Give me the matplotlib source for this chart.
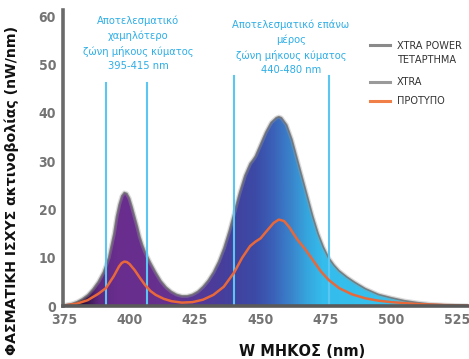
import numpy as np
import matplotlib
matplotlib.use("Agg")
import matplotlib.pyplot as plt
from matplotlib.colors import LinearSegmentedColormap
from matplotlib.patches import Polygon
from matplotlib.lines import Line2D

# ---------------- data ----------------
power_nm = [375, 378, 380, 382, 384, 386, 388, 390, 392, 394, 395, 396, 397, 398, 399, 400,
            401, 402, 403, 404, 405, 406, 408, 410, 412, 414, 416, 418, 420, 422, 424, 426,
            428, 430, 432, 434, 436, 438, 440, 442, 444, 446, 447, 448, 450, 452, 454, 456,
            457, 458, 460, 462, 464, 466, 468, 470, 472, 474, 476, 478, 480, 483, 486, 490,
            495, 500, 505, 510, 515, 520, 525, 529]
power_val = [0.2, 0.5, 0.9, 1.5, 2.3, 3.5, 5.0, 7.0, 10.0, 15.0, 18.5, 21.0, 22.8, 23.5, 23.3, 22.3,
             20.5, 18.5, 16.5, 14.3, 12.6, 11.2, 9.0, 7.0, 5.2, 3.9, 3.0, 2.4, 2.1, 2.1, 2.4, 3.0,
             4.0, 5.3, 7.0, 9.2, 12.0, 15.5, 19.5, 23.5, 27.0, 29.5, 30.2, 31.0, 33.5, 36.0, 38.0, 39.0,
             39.2, 39.0, 37.5, 34.5, 30.5, 26.5, 22.5, 18.5, 15.0, 12.2, 10.0, 8.5, 7.3, 6.0, 4.9, 3.6,
             2.4, 1.7, 1.1, 0.7, 0.4, 0.25, 0.15, 0.1]

std_nm = [375, 380, 384, 388, 391, 394, 396, 397, 398, 399, 400, 402, 404, 406, 408, 410, 413,
          416, 420, 424, 428, 432, 436, 440, 443, 446, 448, 450, 452, 455, 457, 459,
          461, 464, 467, 470, 473, 476, 480, 485, 490, 495, 500, 510, 520, 529]
std_val = [0.1, 0.5, 1.2, 2.5, 3.7, 6.2, 8.2, 8.9, 9.2, 9.1, 8.7, 7.4, 5.8, 4.3, 3.1, 2.3, 1.5,
           1.0, 0.7, 0.8, 1.3, 2.3, 4.0, 7.0, 10.0, 12.4, 13.3, 14.0, 15.3, 17.2, 17.9, 17.6,
           16.3, 13.8, 11.8, 9.5, 7.2, 5.4, 3.7, 2.4, 1.6, 1.1, 0.8, 0.4, 0.2, 0.1]

band_lines = [391, 406.5, 440, 476]
band_tops = [46.2, 46.2, 47.6, 47.6]

x_ticks = [375, 400, 425, 450, 475, 500, 525]
y_ticks = [0, 10, 20, 30, 40, 50, 60]

legend_labels = ["XTRA POWER\nΤΕΤΑΡΤΗΜΑ", "XTRA", "ΠΡΟΤΥΠΟ"]
note_low = "Αποτελεσματικό\nχαμηλότερο\nζώνη μήκους κύματος\n395-415 nm"
note_high = "Αποτελεσματικό επάνω\nμέρος\nζώνη μήκους κύματος\n440-480 nm"

# ---------------- fonts ----------------
fam = ["DejaVu Sans"]
STRETCH = "condensed"

XMIN, XMAX, YMIN, YMAX = 374.6, 529.2, 0, 61.2

fig = plt.figure(figsize=(4.69, 3.59), dpi=100)
ax = fig.add_axes([63/469, (359-306)/359, (468-63)/469, (306-10.5)/359])
ax.set_xlim(XMIN, XMAX)
ax.set_ylim(YMIN, YMAX)

# gradient fill clipped by spectrum
stops = [(375, "#000000"), (382, "#2a0f3a"), (388, "#5e2a82"), (395, "#6a2d8e"),
         (415, "#65318f"), (425, "#563796"), (438, "#44409e"), (448, "#3c4aa6"),
         (455, "#3a62b8"), (462, "#3a85cc"), (468, "#36a6de"), (474, "#34bdec"),
         (529.2, "#38c6f0")]
cmap = LinearSegmentedColormap.from_list(
    "spec", [((nm - 375) / (529.2 - 375), c) for nm, c in stops])
grad = np.linspace(0, 1, 600).reshape(1, -1)
im = ax.imshow(grad, extent=[375, 529.2, 0, YMAX], aspect="auto", cmap=cmap,
               zorder=1, interpolation="bilinear")
poly_xy = np.column_stack([power_nm + [power_nm[-1], power_nm[0]],
                           power_val + [0, 0]])
clip = Polygon(poly_xy, closed=True, transform=ax.transData, facecolor="none",
               edgecolor="none")
ax.add_patch(clip)
im.set_clip_path(clip)

# blurred grey outline
ax.plot(power_nm, power_val, color="#9a9a9a", lw=3.0, alpha=0.35, zorder=2,
        solid_capstyle="round", solid_joinstyle="round")
ax.plot(power_nm, power_val, color="#6e6e6e", lw=1.2, alpha=0.8, zorder=2,
        solid_joinstyle="round")

# band lines
for xv, top in zip(band_lines, band_tops):
    ax.plot([xv, xv], [0, top], color="#5cc6f2", lw=1.5, zorder=3)

# standard curve
ax.plot(std_nm, std_val, color="#e8683a", lw=1.8, zorder=4, solid_joinstyle="round")

# axes styling
for s in ["top", "right"]:
    ax.spines[s].set_visible(False)
ax.spines["left"].set_color("#6a6a6a")
ax.spines["left"].set_linewidth(2.6)
ax.spines["bottom"].set_color("#5a5a5a")
ax.spines["bottom"].set_linewidth(2.6)
ax.spines["left"].set_zorder(5)
ax.spines["bottom"].set_zorder(5)
ax.set_xticks(x_ticks)
ax.set_yticks(y_ticks)
ax.tick_params(length=0, pad=5, labelcolor="#747474")
for lab in ax.get_xticklabels() + ax.get_yticklabels():
    lab.set_family(fam)
    lab.set_fontstretch(STRETCH)
    lab.set_fontweight("bold")
    lab.set_fontsize(10)

# axis labels
fig.text(12/469, 1 - 190/359, "ΦΑΣΜΑΤΙΚΗ ΙΣΧΥΣ ακτινοβολίας (nW/nm)", rotation=90,
         ha="center", va="center", fontsize=10.2, fontweight="bold", color="#111111")
fig.text(302/469, 1 - 351/359, "W ΜΗΚΟΣ (nm)", ha="center", va="center",
         fontsize=10.5, fontweight="bold", color="#111111")

# annotations
fig.text(138/469, 1 - 43/359, note_low, ha="center", va="center", fontsize=8,
         color="#2eaee6", family=fam, fontstretch=STRETCH, linespacing=1.53)
fig.text(291/469, 1 - 47/359, note_high, ha="center", va="center", fontsize=8,
         color="#2eaee6", family=fam, fontstretch=STRETCH, linespacing=1.53)

# legend (manual)
leg_items = [(45, "#8a8a8a", legend_labels[0], 53), (82, "#9a9a9a", legend_labels[1], 82),
             (101, "#f08048", legend_labels[2], 101)]
for yl, col, txt, yt in leg_items:
    fig.add_artist(Line2D([370/469, 390/469], [1 - yl/359, 1 - yl/359], color=col, lw=2.2))
    fig.text(397/469, 1 - yt/359, txt, ha="left", va="center", fontsize=7.8,
             color="#333333", family=fam, fontstretch=STRETCH, linespacing=1.5)

fig.savefig("out.png", dpi=100)
